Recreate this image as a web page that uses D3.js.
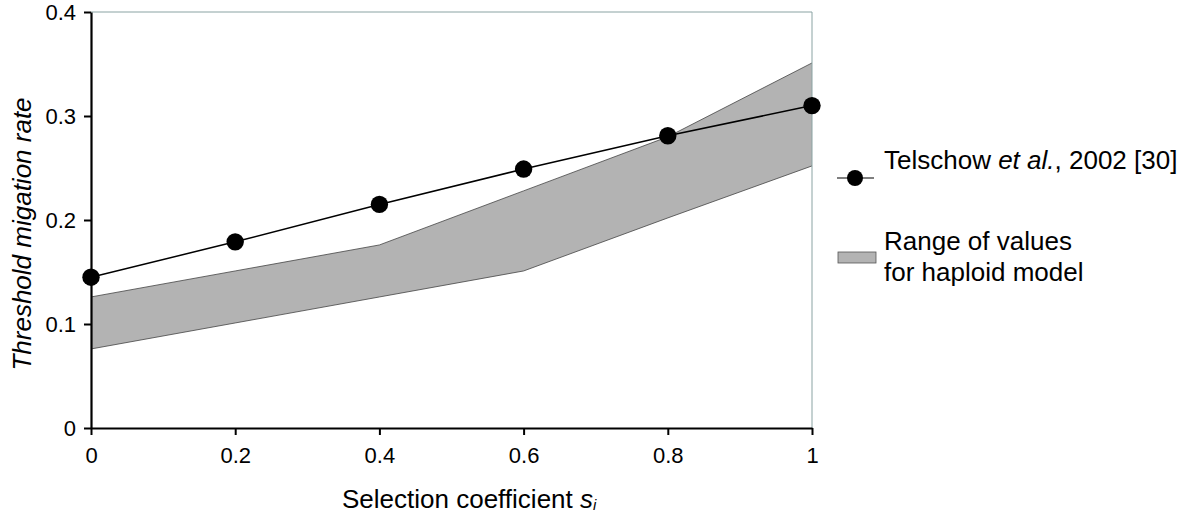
<!DOCTYPE html>
<html><head><meta charset="utf-8">
<script src="https://cdn.jsdelivr.net/npm/d3@7"></script>
<style>body{margin:0;background:#fff;} svg{display:block;font-family:"Liberation Sans",Arial,sans-serif;}</style>
</head><body>
<svg id="c" width="1200" height="526"></svg>
<script>
const xValues = [0, 0.2, 0.4, 0.6, 0.8, 1.0];
const telschow = [0.145, 0.179, 0.215, 0.249, 0.281, 0.310];
const bandUpper = [0.126, 0.151, 0.176, 0.228, 0.280, 0.351];
const bandLower = [0.076, 0.101, 0.126, 0.151, 0.202, 0.252];
const xTicks = [0, 0.2, 0.4, 0.6, 0.8, 1];
const xTickLabels = ["0", "0.2", "0.4", "0.6", "0.8", "1"];
const yTicks = [0, 0.1, 0.2, 0.3, 0.4];
const yTickLabels = ["0", "0.1", "0.2", "0.3", "0.4"];

const svg = d3.select("#c");
const x = d3.scaleLinear().domain([0, 1]).range([91, 812]);
const y = d3.scaleLinear().domain([0, 0.4]).range([428, 12]);

// band
const bandData = xValues.map((v, i) => ({x: v, lo: bandLower[i], hi: bandUpper[i]}));
svg.append("path").datum(bandData)
  .attr("d", d3.area().x(d => x(d.x)).y0(d => y(d.lo)).y1(d => y(d.hi)))
  .attr("fill", "#b3b3b3").attr("stroke", "none");
svg.append("path").datum(bandData)
  .attr("d", d3.line().x(d => x(d.x)).y(d => y(d.hi)))
  .attr("fill", "none").attr("stroke", "#444").attr("stroke-width", 0.8);
svg.append("path").datum(bandData)
  .attr("d", d3.line().x(d => x(d.x)).y(d => y(d.lo)))
  .attr("fill", "none").attr("stroke", "#444").attr("stroke-width", 0.8);

// frame top/right
svg.append("line").attr("x1", x(0)).attr("x2", x(1)).attr("y1", y(0.4)).attr("y2", y(0.4))
  .attr("stroke", "#8aa3a3").attr("stroke-width", 1);
svg.append("line").attr("x1", x(1)).attr("x2", x(1)).attr("y1", y(0.4)).attr("y2", y(0))
  .attr("stroke", "#8aa3a3").attr("stroke-width", 1);

// series line
const pts = xValues.map((v, i) => ({x: v, y: telschow[i]}));
svg.append("path").datum(pts)
  .attr("d", d3.line().x(d => x(d.x)).y(d => y(d.y)))
  .attr("fill", "none").attr("stroke", "#000").attr("stroke-width", 1.5);

// axes
const xAxis = d3.axisBottom(x).tickValues(xTicks).tickFormat((d, i) => xTickLabels[i]).tickSize(7).tickSizeOuter(0);
const gx = svg.append("g").attr("transform", `translate(0,${y(0)})`).call(xAxis);
const yAxis = d3.axisLeft(y).tickValues(yTicks).tickFormat((d, i) => yTickLabels[i]).tickSize(7).tickSizeOuter(0).tickPadding(8);
const gy = svg.append("g").attr("transform", `translate(${x(0)},0)`).call(yAxis);
[gx, gy].forEach(g => {
  g.select(".domain").attr("stroke", "#000").attr("stroke-width", 2.2);
  g.selectAll(".tick line").attr("stroke", "#000").attr("stroke-width", 2);
  g.selectAll(".tick text").attr("fill", "#000").style("font-size", "22px").style("font-family", "'Liberation Sans',Arial,sans-serif");
});
gx.selectAll(".tick text").attr("y", 35).attr("dy", 0);

// circles
svg.append("g").selectAll("circle").data(pts).join("circle")
  .attr("cx", d => x(d.x)).attr("cy", d => y(d.y)).attr("r", 8.7).attr("fill", "#000");

// axis titles
const xt = svg.append("text").attr("x", 342).attr("y", 508).attr("text-anchor", "start")
  .style("font-size", "26px").attr("fill", "#000");
xt.append("tspan").text("Selection coefficient ");
xt.append("tspan").text("s").style("font-style", "italic");
xt.append("tspan").text("i").style("font-style", "italic").style("font-size", "15px").attr("dy", 2);

svg.append("text").attr("transform", "translate(31,234) rotate(-90)").attr("text-anchor", "middle")
  .style("font-size", "26px").style("font-style", "italic").attr("fill", "#000")
  .text("Threshold migation rate");

// legend
const lg = svg.append("g");
lg.append("line").attr("x1", 837).attr("x2", 874).attr("y1", 178).attr("y2", 178).attr("stroke", "#000").attr("stroke-width", 1.2);
lg.append("circle").attr("cx", 855).attr("cy", 178).attr("r", 8).attr("fill", "#000");
const t1 = lg.append("text").attr("x", 884).attr("y", 169).style("font-size", "26px").attr("fill", "#000");
t1.append("tspan").text("Telschow ");
t1.append("tspan").text("et al.").style("font-style", "italic");
t1.append("tspan").text(", 2002 [30]");
lg.append("rect").attr("x", 838).attr("y", 252).attr("width", 38).attr("height", 11)
  .attr("fill", "#b3b3b3").attr("stroke", "#555").attr("stroke-width", 0.8);
lg.append("text").attr("x", 884).attr("y", 250).style("font-size", "26px").attr("fill", "#000").text("Range of values");
lg.append("text").attr("x", 884).attr("y", 281).style("font-size", "26px").attr("fill", "#000").text("for haploid model");
</script>
</body></html>
